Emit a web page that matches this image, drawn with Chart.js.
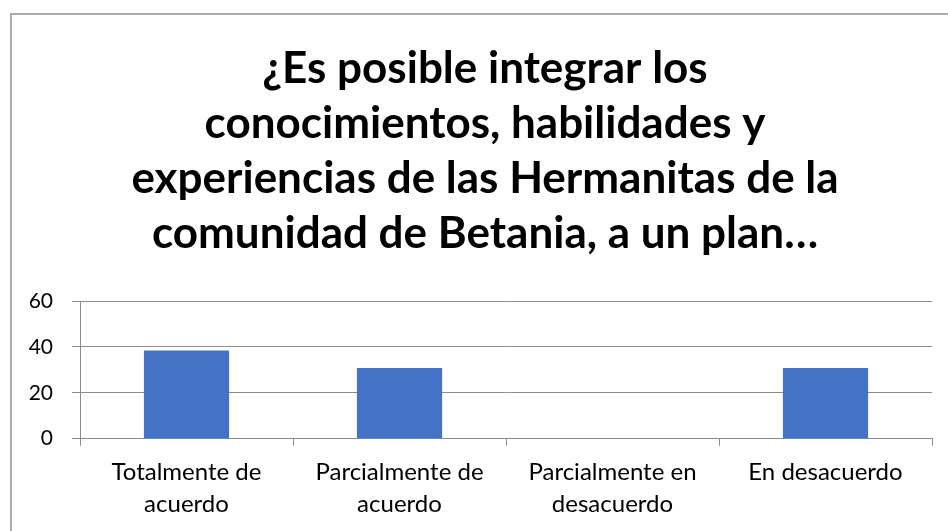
<!DOCTYPE html>
<html>
<head>
<meta charset="utf-8">
<script src="https://cdn.jsdelivr.net/npm/chart.js@4/dist/chart.umd.min.js"></script>
<style>
  html, body { margin: 0; padding: 0; background: #fff; }
  #wrap { position: relative; width: 948px; height: 531px; overflow: hidden; }
  #frame { position: absolute; left: 10px; top: 13px; width: 960px; height: 600px; border: 2px solid #ababab; box-sizing: border-box; }
  canvas { position: absolute; left: 0; top: 0; }
</style>
</head>
<body>
<div id="wrap">
  <div id="frame"></div>
  <canvas id="c" width="948" height="531"></canvas>
</div>
<script>
const titleLines = [
  "¿Es posible integrar los",
  "conocimientos, habilidades y",
  "experiencias de las Hermanitas de la",
  "comunidad de Betania, a un plan…"
];
const categories = [
  ["Totalmente de", "acuerdo"],
  ["Parcialmente de", "acuerdo"],
  ["Parcialmente en", "desacuerdo"],
  ["En desacuerdo"]
];
const values = [38.46, 30.77, 0, 30.77];
const yTicks = [0, 20, 40, 60];

const fontFam = "Lato, 'Open Sans', sans-serif";
const gridColor = "#8c8c8c";

const titleShift = {
  id: "titleShift",
  afterLayout(chart) {
    const tb = chart.titleBlock;
    if (tb) { tb.left += 14; tb.right += 14; }
  }
};

new Chart(document.getElementById("c"), {
  type: "bar",
  data: {
    labels: categories,
    datasets: [{
      data: values,
      backgroundColor: "#4472c4",
      borderWidth: 0,
      barPercentage: 0.4,
      categoryPercentage: 1.0
    }]
  },
  plugins: [titleShift],
  options: {
    responsive: false,
    animation: false,
    devicePixelRatio: 1,
    layout: { padding: { left: 10, right: 16, top: 33, bottom: 0 } },
    plugins: {
      legend: { display: false },
      tooltip: { enabled: false },
      title: {
        display: true,
        text: titleLines,
        color: "#000",
        font: { family: fontFam, size: 44, weight: "bold", lineHeight: 1.25 },
        padding: { top: 8, bottom: 40 }
      }
    },
    scales: {
      x: {
        grid: {
          offset: true,
          drawOnChartArea: false,
          drawTicks: true,
          tickLength: 7,
          color: gridColor
        },
        border: { color: gridColor, width: 1 },
        ticks: {
          color: "#000",
          font: { family: fontFam, size: 24, lineHeight: 1.36 },
          maxRotation: 0,
          autoSkip: false,
          padding: 10
        }
      },
      y: {
        min: 0,
        max: 60,
        afterBuildTicks: (axis) => { axis.ticks = yTicks.map(v => ({ value: v })); },
        afterFit: (axis) => { axis.width = 70; },
        grid: { color: gridColor, tickLength: 8, drawTicks: true },
        border: { color: gridColor, width: 1 },
        ticks: {
          color: "#000",
          font: { family: fontFam, size: 21 },
          padding: 19
        }
      }
    }
  }
});
</script>
</body>
</html>
